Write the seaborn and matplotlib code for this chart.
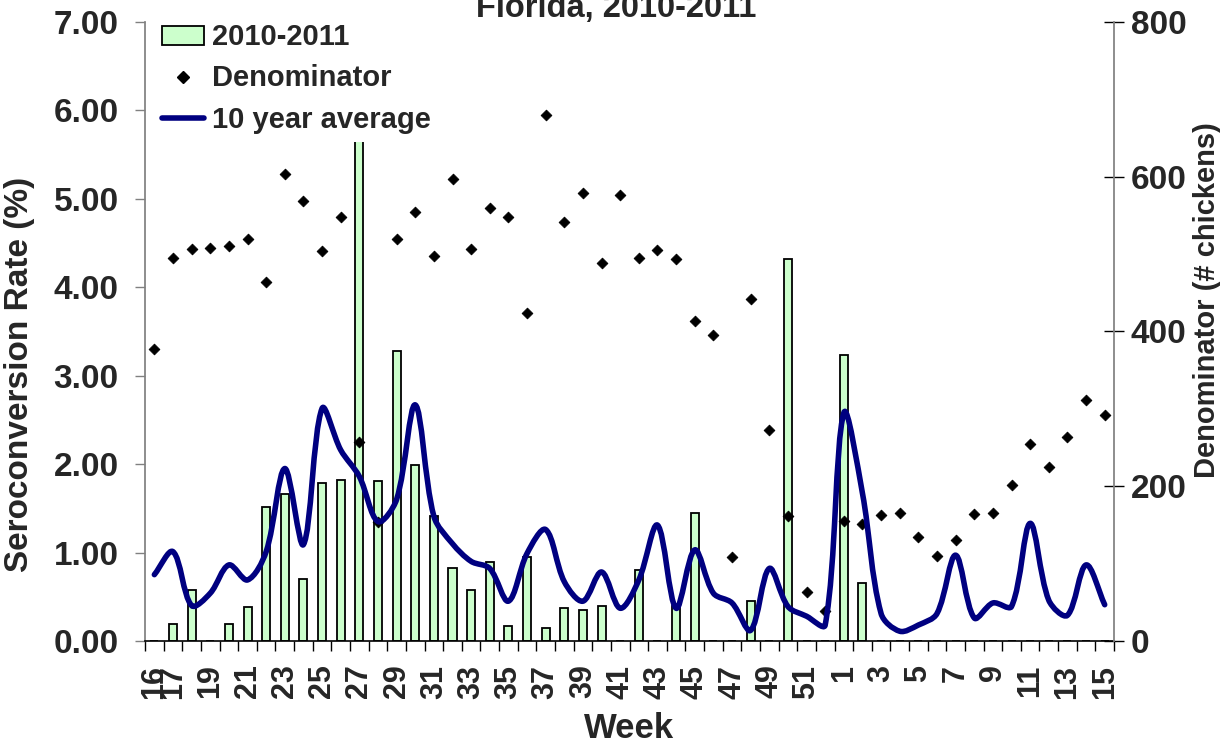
#%% libraries
import numpy as np
import pandas as pd
import matplotlib
matplotlib.use("Agg")
import matplotlib.pyplot as plt
from matplotlib.path import Path
from matplotlib.patches import PathPatch, Patch
from matplotlib.lines import Line2D
import seaborn as sns

#%% data
weeks = list(range(16, 53)) + list(range(1, 16))

rate_2010_11 = [0, 0.19, 0.58, 0, 0.19, 0.38, 1.51, 1.66, 0.70, 1.79,
                1.82, 7.14, 1.81, 3.28, 1.99, 1.41, 0.83, 0.58, 0.89, 0.17,
                0.95, 0.15, 0.37, 0.35, 0.40, 0, 0.80, 0, 0.40, 1.45,
                0, 0, 0.45, 0, 4.32, 0, 0,
                3.23, 0.66, 0, 0, 0, 0, 0, 0, 0, 0, 0, 0, 0, 0, 0]

denominator = [378, 495, 507, 508, 511, 520, 464, 603, 569, 504,
               548, 257, 154, 520, 555, 497, 597, 506, 560, 548,
               424, 680, 542, 579, 489, 576, 495, 505, 494, 414,
               396, 108, 442, 273, 162, 63, 39,
               155, 151, 163, 165, 135, 110, 131, 164, 165, 201,
               255, 225, 263, 311, 292]

ten_year_avg = [0.75, 1.01, 0.40, 0.54, 0.86, 0.69, 1.01, 1.95, 1.09, 2.63,
                2.16, 1.86, 1.35, 1.60, 2.67, 1.41, 1.10, 0.90, 0.82, 0.45,
                0.99, 1.26, 0.67, 0.45, 0.78, 0.37, 0.69, 1.31, 0.37, 1.03,
                0.54, 0.43, 0.12, 0.82, 0.39, 0.28, 0.18,
                2.58, 1.67, 0.31, 0.11, 0.18, 0.31, 0.97, 0.26, 0.43, 0.39,
                1.33, 0.46, 0.29, 0.86, 0.41]

left_ticks = [0, 1, 2, 3, 4, 5, 6, 7]
right_ticks = [0, 200, 400, 600, 800]

df = pd.DataFrame({
    'week': [str(w) for w in weeks],
    'pos': np.arange(len(weeks)),
    'rate': rate_2010_11,
    'denom': denominator,
    'avg': ten_year_avg,
})

#%% style
sns.set_theme(style="white")
plt.rcParams['font.family'] = ['Liberation Sans', 'DejaVu Sans']
plt.rcParams['font.weight'] = 'bold'
plt.rcParams['axes.labelweight'] = 'bold'

bar_color = '#CCFFCC'
line_color = '#000080'
axis_grey = '#808080'

fig = plt.figure(figsize=(12.25, 7.46), dpi=100)
ax = fig.add_axes([0.1184, 0.1408, 0.9094 - 0.1184, 0.9705 - 0.1408])

# --- bars (left axis) ---
sns.barplot(data=df, x='week', y='rate', order=df['week'], ax=ax,
            color=bar_color, saturation=1, width=0.43,
            edgecolor='black', linewidth=1.3, zorder=2)

ax.set_xlim(-0.5, len(weeks) - 0.5)
ax.set_ylim(0, 7)
ax.set_yticks(left_ticks)
ax.set_yticklabels([f'{t:.2f}' for t in left_ticks])

# --- diamonds (right axis) ---
ax2 = ax.twinx()
sns.scatterplot(data=df, x='pos', y='denom', ax=ax2, marker='D', s=30,
                color='black', edgecolor='black', linewidth=0.6, zorder=3,
                legend=False)
ax2.set_ylim(0, 800)
ax2.set_yticks(right_ticks)

# --- smoothed 10 year average (Excel-like bezier, built in screen space) ---
pts = np.column_stack([df['pos'].values, df['avg'].values]).astype(float)
disp = ax.transData.transform(pts)
n = len(disp)
verts = [disp[0]]
codes = [Path.MOVETO]
for i in range(n - 1):
    p1, p2 = disp[i], disp[i + 1]
    p0 = disp[i - 1] if i > 0 else p1
    p3 = disp[i + 2] if i + 2 < n else p2
    d01 = np.hypot(*(p1 - p0))
    d12 = np.hypot(*(p2 - p1))
    d23 = np.hypot(*(p3 - p2))
    f1 = d12 / (d01 + d12) if d01 + d12 > 0 else 0
    f2 = d12 / (d12 + d23) if d12 + d23 > 0 else 0
    c1 = p1 + (p2 - p0) * f1 / 3
    c2 = p2 - (p3 - p1) * f2 / 3
    verts += [c1, c2, p2]
    codes += [Path.CURVE4] * 3
verts = ax.transData.inverted().transform(np.array(verts))
curve = PathPatch(Path(verts, codes), facecolor='none', edgecolor=line_color,
                  linewidth=4.0, transform=ax.transData, zorder=4,
                  capstyle='round', joinstyle='round')
ax2.add_patch(curve)
curve.set_clip_path(ax2.patch)

# --- x axis: ticks between categories, labels at 16 and odd positions ---
ax.set_xticks(np.arange(-0.5, len(weeks)), minor=True)
label_pos = [0] + list(range(1, len(weeks), 2))
ax.set_xticks(label_pos)
ax.set_xticklabels([str(weeks[i]) for i in label_pos], rotation=90,
                   fontsize=22, fontweight='bold')
ax.tick_params(axis='x', which='major', length=0, pad=17)
ax.tick_params(axis='x', which='minor', length=7, width=1, color='black',
               direction='out', bottom=True)

ax.tick_params(axis='y', which='major', length=7, width=1, color=axis_grey,
               direction='out', labelsize=24, pad=12, left=True)
ax2.tick_params(axis='y', which='major', length=14, width=1, color='black',
                direction='inout', labelsize=24, pad=5, right=True)
for lab in ax.get_yticklabels() + ax2.get_yticklabels():
    lab.set_fontweight('bold')

for a in (ax, ax2):
    a.spines['top'].set_visible(False)
ax.spines['left'].set_color(axis_grey)
ax.spines['right'].set_visible(False)
ax2.spines['left'].set_visible(False)
ax2.spines['right'].set_color(axis_grey)
ax.spines['bottom'].set_color('black')
ax.spines['bottom'].set_linewidth(1.2)
ax2.spines['bottom'].set_visible(False)

ax.set_xlabel('Week', fontsize=25, fontweight='bold', labelpad=10)
ax.set_ylabel('Seroconversion Rate (%)', fontsize=24, fontweight='bold')
ax2.set_ylabel('Denominator (# chickens)', fontsize=21, fontweight='bold')
ax.yaxis.set_label_coords(-0.114, 0.43)
ax2.yaxis.set_label_coords(1.082, 0.55)

# --- legend ---
handles = [Patch(facecolor=bar_color, edgecolor='black', linewidth=1.3),
           Line2D([], [], marker='D', ls='none', color='black', ms=6.5),
           Line2D([], [], color=line_color, lw=4.0)]
leg = ax2.legend(handles, ['2010-2011', 'Denominator', '10 year average'],
                 loc='upper left', bbox_to_anchor=(0.008, 1.012),
                 fontsize=21, frameon=True, framealpha=1, facecolor='white',
                 edgecolor='none', fancybox=False, handlelength=1.45,
                 handleheight=0.62, handletextpad=0.27, labelspacing=0.45,
                 borderpad=0.3, borderaxespad=0)
for t in leg.get_texts():
    t.set_fontweight('bold')

fig.text(0.503, 0.9776, 'Florida, 2010-2011', ha='center', va='baseline',
         fontsize=23.5, fontweight='bold')

fig.savefig('out.png', dpi=100)
